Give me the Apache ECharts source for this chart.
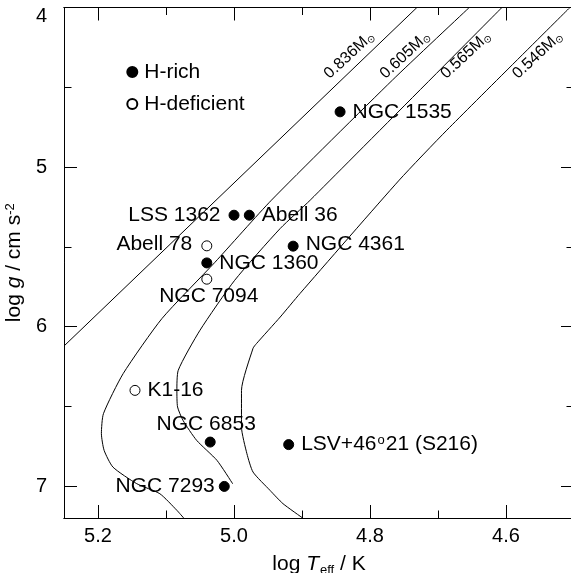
<!DOCTYPE html>
<html><head><meta charset="utf-8">
<script src="https://cdn.jsdelivr.net/npm/echarts@6/dist/echarts.min.js"></script>
<style>html,body{margin:0;padding:0;background:#fff}#c{width:571px;height:573px}</style>
</head><body><div id="c"></div>
<script>
// ---- axis ticks ----
const xTicks = [4.6, 4.8, 5.0, 5.2];
const xMinorTicks = [4.7, 4.9, 5.1];
const yTicks = [4, 5, 6, 7];
const yMinorTicks = [4.5, 5.5, 6.5];

// ---- evolutionary tracks [log Teff, log g] ----
const track0836 = [[5.25, 6.122], [4.731, 4.0]];
const track0605 = [[4.654, 4.0], [4.767, 4.455], [4.945, 5.208], [5.028, 5.597], [5.106, 5.950], [5.163, 6.295], [5.192, 6.546], [5.195, 6.671], [5.191, 6.776], [5.178, 6.881], [5.143, 6.985], [5.109, 7.048], [5.084, 7.152], [5.074, 7.2]];
const track0565 = [[4.606, 4.0], [4.888, 5.208], [4.932, 5.385], [4.999, 5.710], [5.05, 6.023], [5.082, 6.274], [5.084, 6.400], [5.083, 6.504], [5.075, 6.588], [5.055, 6.713], [5.025, 6.839], [5.002, 6.985]];
const track0546 = [[4.506, 4.0], [4.687, 4.769], [4.757, 5.082], [4.903, 5.793], [4.932, 5.940], [4.967, 6.107], [4.972, 6.136], [4.989, 6.400], [4.989, 6.630], [4.981, 6.797], [4.972, 6.912], [4.947, 7.027], [4.928, 7.110], [4.899, 7.2]];
const trackNames = ['0.836', '0.605', '0.565', '0.546'];
const trackLabelT = [4.8306, 4.7485, 4.659, 4.5537];
const trackLabelG = [4.298, 4.298, 4.298, 4.298];

// ---- objects ----
const hRichNames = ['NGC 1535', 'LSS 1362', 'Abell 36', 'NGC 4361', 'NGC 1360', 'NGC 6853', 'NGC 7293', 'LSV+46°21 (S216)'];
const hRichT = [4.844, 5.000, 4.9775, 4.913, 5.040, 5.035, 5.0143, 4.9196];
const hRichG = [4.654, 5.302, 5.302, 5.496, 5.601, 6.724, 7.002, 6.740];
const hDefNames = ['Abell 78', 'NGC 7094', 'K1-16'];
const hDefT = [5.040, 5.040, 5.1456];
const hDefG = [5.494, 5.703, 6.40];

const FONT = '"Liberation Sans", Arial, Helvetica, sans-serif';
const place = {
  'NGC 1535': {position: 'right', distance: 7},
  'LSS 1362': {position: 'left', distance: 8},
  'Abell 36': {position: 'right', distance: 7},
  'NGC 4361': {position: 'right', distance: 7, offset: [0, -2]},
  'NGC 1360': {position: 'right', distance: 7},
  'NGC 6853': {position: 'top', distance: 2, offset: [-4, 0]},
  'NGC 7293': {position: 'left', distance: 4},
  'LSV+46°21 (S216)': {position: 'right', distance: 7},
  'Abell 78': {position: 'left', distance: 9, offset: [0, -2]},
  'NGC 7094': {position: 'bottom', distance: 1, offset: [2, 0]},
  'K1-16': {position: 'right', distance: 7}
};

const lineCol = '#000';
const xMin = 4.5, xMax = 5.25, yMin = 4, yMax = 7.2;

function xAx(pos, ticks, len, withLabel) {
  const a = {
    type: 'value', min: xMin, max: xMax, inverse: true, position: pos,
    axisLine: {show: true, onZero: false, lineStyle: {color: lineCol, width: 1}},
    axisTick: {show: true, inside: true, length: len, customValues: ticks, lineStyle: {color: lineCol, width: 1}},
    axisLabel: {show: false},
    splitLine: {show: false}
  };
  if (withLabel) {
    a.axisLabel = {show: true, customValues: xTicks, formatter: v => v.toFixed(1), fontSize: 20, color: '#000', margin: 8, fontFamily: FONT};
    a.name = '{n|log }{i|T}{s|eff}{n| / K}';
    a.nameLocation = 'middle';
    a.nameGap = 36;
    a.nameTextStyle = {color: '#000', fontFamily: FONT, fontSize: 21, rich: {
      n: {fontSize: 21, fontFamily: FONT, color: '#000', verticalAlign: 'top', lineHeight: 21},
      i: {fontSize: 21, fontFamily: FONT, color: '#000', fontStyle: 'italic', verticalAlign: 'top', lineHeight: 21},
      s: {fontSize: 13, fontFamily: FONT, color: '#000', verticalAlign: 'top', lineHeight: 13, padding: [10, 0, 0, 1]}
    }};
  }
  return a;
}
function yAx(pos, ticks, len, withLabel) {
  const a = {
    type: 'value', min: yMin, max: yMax, inverse: true, position: pos,
    axisLine: {show: true, onZero: false, lineStyle: {color: lineCol, width: 1}},
    axisTick: {show: true, inside: true, length: len, customValues: ticks, lineStyle: {color: lineCol, width: 1}},
    axisLabel: {show: false},
    splitLine: {show: false}
  };
  if (withLabel) {
    a.axisLabel = {show: true, customValues: yTicks, formatter: v => v === 4 ? '{t|4}' : String(v), fontSize: 20, color: '#000', margin: 17, fontFamily: FONT,
      rich: {t: {fontSize: 20, fontFamily: FONT, color: '#000', padding: [17, 0, 0, 0]}}};
    a.name = '{n|log }{i|g}{n| / cm s}{p|-2}';
    a.nameLocation = 'middle';
    a.nameGap = 34;
    a.nameTextStyle = {color: '#000', fontFamily: FONT, fontSize: 21, rich: {
      n: {fontSize: 21, fontFamily: FONT, color: '#000', verticalAlign: 'bottom', lineHeight: 21, padding: [5, 0, 0, 0]},
      i: {fontSize: 21, fontFamily: FONT, color: '#000', fontStyle: 'italic', verticalAlign: 'bottom', lineHeight: 21, padding: [5, 0, 0, 0]},
      p: {fontSize: 13, fontFamily: FONT, color: '#000', verticalAlign: 'top', lineHeight: 13}
    }};
  }
  return a;
}

const tracks = [track0836, track0605, track0565, track0546];
const series = tracks.map((t, i) => ({
  type: 'line', name: 'track' + trackNames[i], data: t, showSymbol: false, symbol: 'none',
  smooth: i === 0 ? false : 0.2, silent: true, clip: true, z: 2,
  lineStyle: {color: '#000', width: 1}
}));
series.push({
  type: 'scatter', name: 'trackLabels', symbolSize: 0, silent: true, z: 3,
  itemStyle: {opacity: 1},
  data: trackNames.map((n, i) => ({name: n, value: [trackLabelT[i], trackLabelG[i]]})),
  label: {show: true, position: 'inside', rotate: 43, formatter: p => '{m|' + p.name + 'M}{s|⊙}',
    rich: {m: {fontSize: 16, fontFamily: FONT, color: '#000', verticalAlign: 'top', lineHeight: 16},
           s: {fontSize: 10, fontFamily: 'DejaVu Sans', color: '#000', verticalAlign: 'top', lineHeight: 10, padding: [7, 0, 0, 0]}}}
});
const ptLabel = {show: true, fontSize: 21, fontFamily: FONT, color: '#000',
  formatter: p => p.name.replace('°', '{sup|o}'),
  rich: {sup: {fontSize: 13, fontFamily: FONT, color: '#000', verticalAlign: 'top', lineHeight: 13, padding: [0, 1, 0, 1]}}};
series.push({
  type: 'scatter', name: 'H-rich', symbol: 'circle', symbolSize: 10, z: 5,
  itemStyle: {color: '#000', borderColor: '#000', borderWidth: 1, opacity: 1},
  label: ptLabel,
  data: hRichNames.map((n, i) => Object.assign({name: n, value: [hRichT[i], hRichG[i]]}, {label: place[n]}))
});
series.push({
  type: 'scatter', name: 'H-deficient', symbol: 'circle', symbolSize: 10, z: 5,
  itemStyle: {color: '#fff', borderColor: '#000', borderWidth: 1, opacity: 1},
  label: ptLabel,
  data: hDefNames.map((n, i) => Object.assign({name: n, value: [hDefT[i], hDefG[i]]}, {label: place[n]}))
});

const chart = echarts.init(document.getElementById('c'), null, {renderer: 'canvas'});
chart.setOption({
  animation: false,
  backgroundColor: '#fff',
  textStyle: {fontFamily: FONT},
  grid: {left: 64, top: 7.5, right: -3, bottom: 55, containLabel: false, outerBoundsMode: 'none'},
  legend: {
    data: ['H-rich', 'H-deficient'], orient: 'vertical', left: 121.3, top: 56.5, itemGap: 11,
    icon: 'circle', itemWidth: 10, itemHeight: 10, selectedMode: false,
    textStyle: {fontSize: 21, fontFamily: FONT, color: '#000', padding: [0, 0, 0, 2]}
  },
  xAxis: [xAx('bottom', xTicks, 13, true), xAx('bottom', xMinorTicks, 7.5, false), xAx('top', xTicks, 13, false), xAx('top', xMinorTicks, 7.5, false)],
  yAxis: [yAx('left', yTicks, 13, true), yAx('left', yMinorTicks, 7.5, false), yAx('right', yTicks, 13, false), yAx('right', yMinorTicks, 7.5, false)],
  series: series
});
</script>
</body></html>
